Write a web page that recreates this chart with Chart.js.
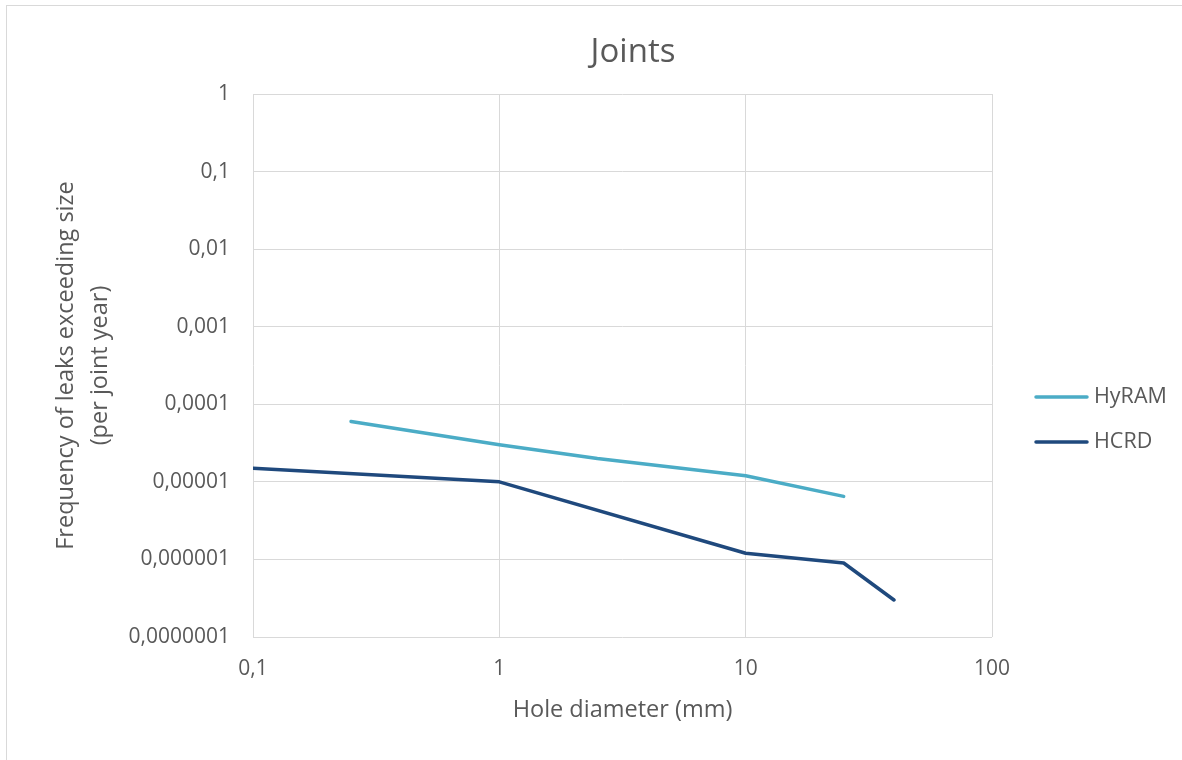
<!DOCTYPE html>
<html>
<head>
<meta charset="utf-8">
<title>Joints</title>
<script src="https://cdn.jsdelivr.net/npm/chart.js@4.4.1/dist/chart.umd.min.js"></script>
<style>
  body { margin: 0; background: #fff; }
  #wrap { position: relative; width: 1182px; height: 760px; overflow: hidden; }
  #frame { position: absolute; left: 6px; top: 5px; width: 1200px; height: 800px; border: 1px solid #d9d9d9; }
  #chart { position: absolute; left: 0; top: 0; }
</style>
</head>
<body>
<div id="wrap">
  <div id="frame"></div>
  <canvas id="chart" width="1182" height="760"></canvas>
</div>
<script>
// hole diameter (mm) and leak frequency (per joint year)
const hyramX = [0.25, 1, 2.5, 10, 25];
const hyramY = [6e-5, 3e-5, 2e-5, 1.2e-5, 6.5e-6];
const hcrdX = [0.1, 1, 10, 25, 40];
const hcrdY = [1.5e-5, 1e-5, 1.2e-6, 9e-7, 3e-7];

const xTicks = [0.1, 1, 10, 100];
const yTicks = [1e-7, 1e-6, 1e-5, 1e-4, 1e-3, 1e-2, 1e-1, 1];

const chartTitle = "Joints";
const seriesNames = ["HyRAM", "HCRD"];
const seriesColors = ["#4BACC6", "#1F497D"];

const textColor = "#595959";
const gridColor = "#d9d9d9";
const fontFamily = "'Open Sans', 'Noto Sans', sans-serif";

// excel style decimal comma: 0,001
function formatTick(value) {
  const decimals = Math.max(0, Math.round(-Math.log10(value)));
  return value.toFixed(decimals).replace(".", ",");
}

function toPoints(xs, ys) {
  return xs.map((x, i) => ({ x: x, y: ys[i] }));
}

// title over the whole frame and legend on the right, placed like Excel does
const excelBits = {
  id: "excelBits",
  afterDraw(chart) {
    const ctx = chart.ctx;
    ctx.save();
    ctx.fillStyle = textColor;
    ctx.textAlign = "center";
    ctx.textBaseline = "middle";
    ctx.font = "33px " + fontFamily;
    ctx.fillText(chartTitle, 633, 53);

    ctx.textAlign = "left";
    ctx.font = "21.5px " + fontFamily;
    ctx.lineCap = "round";
    chart.data.datasets.forEach((ds, i) => {
      const y = 397 + i * 45;
      ctx.strokeStyle = ds.borderColor;
      ctx.lineWidth = 3.5;
      ctx.beginPath();
      ctx.moveTo(1036, y);
      ctx.lineTo(1087, y);
      ctx.stroke();
      ctx.fillText(ds.label, 1094, y);
    });
    ctx.restore();
  },
};

new Chart(document.getElementById("chart"), {
  type: "scatter",
  data: {
    datasets: [
      {
        label: seriesNames[0],
        data: toPoints(hyramX, hyramY),
        borderColor: seriesColors[0],
        backgroundColor: seriesColors[0],
      },
      {
        label: seriesNames[1],
        data: toPoints(hcrdX, hcrdY),
        borderColor: seriesColors[1],
        backgroundColor: seriesColors[1],
      },
    ].map((d) => ({
      ...d,
      showLine: true,
      borderWidth: 3.5,
      borderCapStyle: "round",
      borderJoinStyle: "round",
      pointRadius: 0,
      pointHoverRadius: 0,
    })),
  },
  options: {
    responsive: false,
    animation: false,
    layout: { padding: { left: 10, right: 190, top: 94, bottom: 0 } },
    plugins: {
      legend: { display: false },
      tooltip: { enabled: false },
      title: { display: false },
    },
    scales: {
      x: {
        type: "logarithmic",
        min: 0.1,
        max: 100,
        afterBuildTicks: (scale) => {
          scale.ticks = xTicks.map((v) => ({ value: v }));
        },
        afterFit: (scale) => {
          scale.height = 123;
        },
        ticks: {
          color: textColor,
          font: { family: fontFamily, size: 21 },
          padding: 19,
          maxRotation: 0,
          callback: (v) => formatTick(v),
        },
        grid: { color: gridColor, lineWidth: 1, drawTicks: false },
        border: { display: false },
        title: {
          display: true,
          text: "Hole diameter (mm)",
          color: textColor,
          font: { family: fontFamily, size: 23.5, lineHeight: 1.2 },
          padding: { top: 0, bottom: 36 },
        },
      },
      y: {
        type: "logarithmic",
        min: 1e-7,
        max: 1,
        afterBuildTicks: (scale) => {
          scale.ticks = yTicks.map((v) => ({ value: v }));
        },
        afterFit: (scale) => {
          scale.width = 243;
        },
        ticks: {
          color: textColor,
          font: { family: fontFamily, size: 21 },
          padding: 23,
          callback: (v) => formatTick(v),
        },
        grid: { color: gridColor, lineWidth: 1, drawTicks: false },
        border: { display: false },
        title: {
          display: true,
          text: ["Frequency of leaks exceeding size", "(per joint year)"],
          color: textColor,
          font: { family: fontFamily, size: 23.5, lineHeight: 1.45 },
          padding: { top: 39, bottom: 0 },
        },
      },
    },
  },
  plugins: [excelBits],
});
</script>
</body>
</html>
